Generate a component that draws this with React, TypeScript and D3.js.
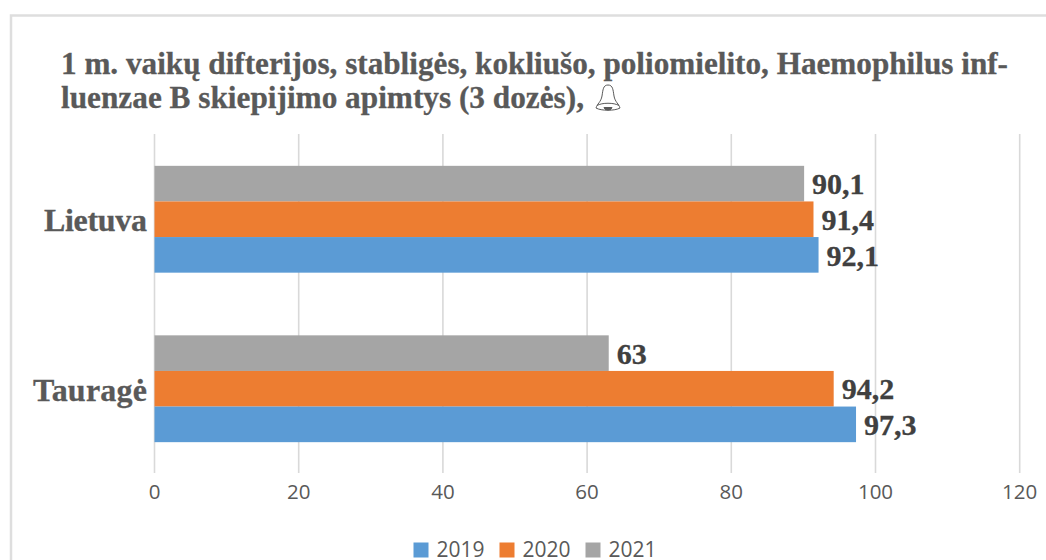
import React from "react";
import * as d3 from "d3";

const categories = ["Lietuva", "Tauragė"];
const years = ["2021", "2020", "2019"];
const colors = ["#A5A5A5", "#ED7D31", "#5B9BD5"];
const lietuva = [90.1, 91.4, 92.1];
const taurage = [63, 94.2, 97.3];
const valueLabels = [["90,1", "91,4", "92,1"], ["63", "94,2", "97,3"]];
const ticks = [0, 20, 40, 60, 80, 100, 120];
const legendYears = ["2019", "2020", "2021"];
const legendColors = ["#5B9BD5", "#ED7D31", "#A5A5A5"];
const titleLines = [
  "1 m. vaikų difterijos, stabligės, kokliušo, poliomielito, Haemophilus inf-",
  "luenzae B skiepijimo apimtys (3 dozės),",
];

const serif = "'Liberation Serif', serif";
const sans = "'Open Sans', sans-serif";
const categoryWidths = [103, 114];

export default function App() {
  const x = d3.scaleLinear().domain([0, 120]).range([154.5, 1019.7]);
  const y = d3.scaleBand().domain(categories).range([134.5, 473.5]);
  const bandInner = d3.scaleBand().domain(years).range([0, y.bandwidth()]).paddingOuter(0.88).paddingInner(0);
  const series = [lietuva, taurage];
  return (
    <svg width={1046} height={560} style={{ position: "absolute", left: 0, top: 0, background: "#fff" }}>
      <path d="M11 560V15.5H1046" fill="none" stroke="#DEDEDE" strokeWidth={2.5} />
      {ticks.map((t) => (
        <g key={t}>
          <line x1={x(t)} x2={x(t)} y1={134} y2={473} stroke="#D9D9D9" strokeWidth={1.6} />
          <text x={x(t)} y={499} textAnchor="middle" fontFamily={sans} fontSize={20.5} fill="#595959">{t}</text>
        </g>
      ))}
      {categories.map((c, i) => (
        <g key={c}>
          {years.map((yr, j) => {
            const v = series[i][j];
            const top = y(c)! + bandInner(yr)!;
            return (
              <g key={yr}>
                <rect x={x(0)} y={top} width={x(v) - x(0)} height={bandInner.bandwidth()} fill={colors[j]} />
                <text x={x(v) + 8} y={top + 28.5} fontFamily={serif} fontWeight="bold" fontSize={30} fill="#404040" stroke="#404040" strokeWidth={0.3}>{valueLabels[i][j]}</text>
              </g>
            );
          })}
          <text x={147 - categoryWidths[i]} y={y(c)! + y.bandwidth() / 2 + 12} textLength={categoryWidths[i]} fontFamily={serif} fontWeight="bold" fontSize={32} fill="#595959" stroke="#595959" strokeWidth={0.3}>{c}</text>
        </g>
      ))}
      <text fontFamily={serif} fontWeight="bold" fontSize={32} fill="#595959" stroke="#595959" strokeWidth={0.3}>
        <tspan x={61} y={74} textLength={947} lengthAdjust="spacingAndGlyphs">{titleLines[0]}</tspan>
        <tspan x={61} y={108} textLength={523} lengthAdjust="spacingAndGlyphs">{titleLines[1]}</tspan>
      </text>
      <g fill="none" stroke="#595959" strokeWidth={1}>
        <path d="M608 85 C603 85 603 90 602 96 C601 102 597 104 596 108 C601 111 615 111 620 108 C619 104 615 102 614 96 C613 90 613 85 608 85 Z" />
        <path d="M597 105.5 C602 102.5 614 102.5 619 105.5" />
        <path d="M604 107 A4 3 0 0 0 612 107" fill="#595959" />
      </g>
      {legendYears.map((l, i) => {
        const lx = d3.scaleLinear().domain([0, 1]).range([413.5, 499.5])(i);
        return (
          <g key={l}>
            <rect x={lx} y={542.5} width={15} height={15} fill={legendColors[i]} />
            <text x={lx + 23} y={556.5} fontFamily={sans} fontSize={21} fill="#595959">{l}</text>
          </g>
        );
      })}
    </svg>
  );
}
